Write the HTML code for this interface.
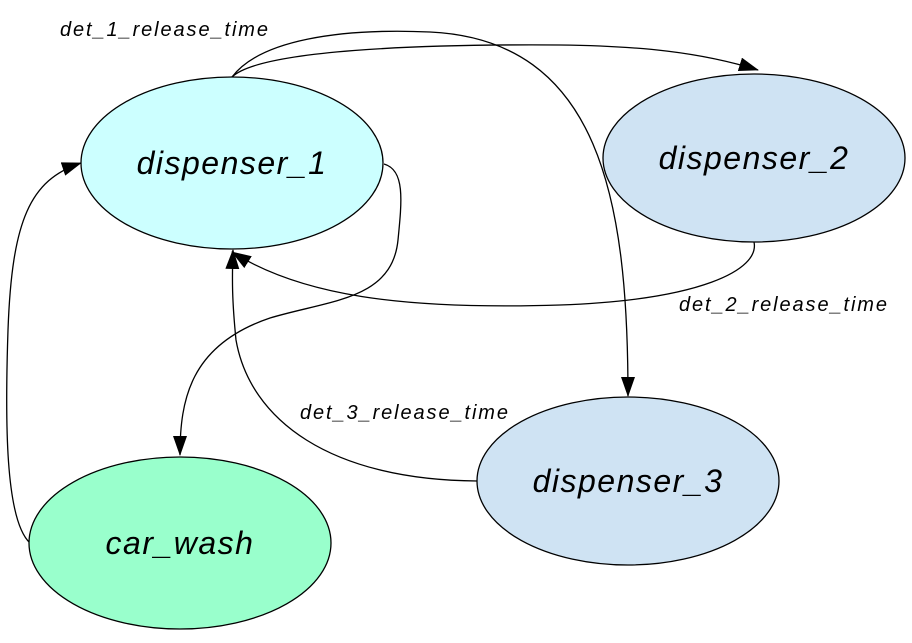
<!DOCTYPE html>
<html><head><style>
html,body{margin:0;padding:0;background:#fff;width:912px;height:643px;overflow:hidden}
text{font-family:"Liberation Sans",Arial,sans-serif;font-style:italic}
</style></head><body>
<svg width="912" height="643" viewBox="0 0 912 643" xmlns="http://www.w3.org/2000/svg">
<defs>
<marker id="b" markerWidth="20" markerHeight="14" refX="19" refY="7" orient="auto" markerUnits="userSpaceOnUse" viewBox="0 0 20 14"><path d="M0,0L20,7L0,14z" fill="#000"/></marker></defs>
<g fill="none" stroke="#000" stroke-width="1.3">
<path d="M232,77 C260,50 420,44 560,45 C640,46 700,52 758,70" marker-end="url(#b)"/>
<path d="M232,77 C260,40 340,28 430,32 C600,40 628,200 628,396" marker-end="url(#b)"/>
<path d="M754,242 C760,270 700,300 560,305 C400,310 300,295 232,252" marker-end="url(#b)"/>
<path d="M477,481 C330,480 250,420 236,340 C232,300 232,280 233,250" marker-end="url(#b)"/>
<path d="M384,164 C405,170 402,200 398,240 C392,300 330,300 270,318 C190,345 180,400 180,455" marker-end="url(#b)"/>
<path d="M30,543 C5,520 5,420 8,330 C12,220 30,180 81,163" marker-end="url(#b)"/>
</g>
<ellipse cx="232" cy="163" rx="151" ry="86" fill="#ccffff" stroke="#000" stroke-width="1.3"/>
<ellipse cx="754" cy="158" rx="151" ry="84" fill="#cfe3f3" stroke="#000" stroke-width="1.3"/>
<ellipse cx="628" cy="481" rx="151" ry="84" fill="#cfe3f3" stroke="#000" stroke-width="1.3"/>
<ellipse cx="180" cy="543" rx="151" ry="86" fill="#99ffcc" stroke="#000" stroke-width="1.3"/>
<g font-size="32" text-anchor="middle" fill="#000" letter-spacing="1.5">
<text x="232" y="174">dispenser_1</text>
<text x="754" y="169">dispenser_2</text>
<text x="628" y="492">dispenser_3</text>
<text x="180" y="554">car_wash</text>
</g>
<g font-size="20" fill="#000" letter-spacing="1.9">
<text x="60" y="36">det_1_release_time</text>
<text x="679" y="311">det_2_release_time</text>
<text x="300" y="419">det_3_release_time</text>
</g>
</svg>
</body></html>
